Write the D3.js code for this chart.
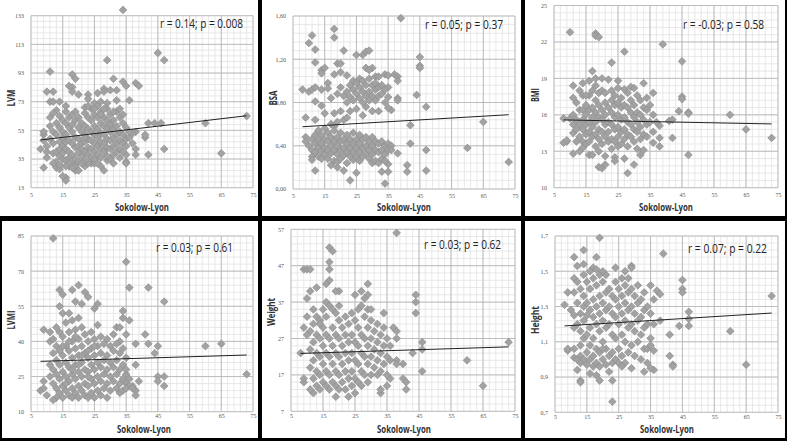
<!DOCTYPE html>
<html><head><meta charset="utf-8">
<script src="https://cdn.jsdelivr.net/npm/d3@7"></script>
<style>body{margin:0;background:#000;}svg{display:block;}</style>
</head><body>
<svg id="c" width="787" height="441"></svg>
<script>
const xTicks = [5,15,25,35,45,55,65,75];
const lvmTicks = [13,33,53,73,93,113,133];
const bsaTicks = [0,0.4,0.8,1.2,1.6];
const bmiTicks = [10,13,16,19,22,25];
const lvmiTicks = [10,25,40,55,70,85];
const weightTicks = [7,17,27,37,47,57];
const heightTicks = [0.7,0.9,1.1,1.3,1.5,1.7];

const annotations = ["r = 0.14; p = 0.008","r = 0.05; p = 0.37","r = -0.03; p = 0.58","r = 0.03; p = 0.61","r = 0.03; p = 0.62","r = 0.07; p = 0.22"];
const yTitles = ["LVM","BSA","BMI","LVMI","Weight","Height"];

const lvmFit = [[8,46.3],[73,63.2]];
const bsaFit = [[8,0.576],[73,0.687]];
const bmiFit = [[8,15.58],[73,15.25]];
const lvmiFit = [[8,31.5],[73,34.2]];
const weightFit = [[8,22.9],[73,24.7]];
const heightFit = [[8,1.19],[73,1.263]];

const lvmData = [[34,137],[45,107],[47,102],[29,102],[11,94],[18,92],[19,89],[31,89],[34,87],[38,86],[39,84],[35,84],[17,84],[18,83],[18,80],[20,78],[10,80],[12,80],[23,78],[26,79],[28,82],[28,80],[32,81],[30,81],[36,74],[32,74],[11,73],[12,73],[14,73],[25,72],[27,73],[29,72],[23,75],[16,70],[13,67],[22,69],[60,58],[65,37],[73,63],[47,40],[42,36],[41,48],[41,50],[44,58],[42,58],[46,58],[38,40],[38,36],[38,52],[37,51],[35,31],[35,30],[35,36],[33,34],[31,30],[28,25],[24,30],[8,40],[9,27],[9,50],[9,52],[10,34],[12,37],[13,27],[14,26],[16,20],[16,18],[15,21],[17,28],[19,26],[19,25],[22,28],[23,30],[25,30],[27,28],[29,32],[30,33],
[11,47],[11,56],[11,62],[12,65],[12,44],[12,52],[13,38],[13,58],[13,50],[14,63],[14,55],[14,45],[14,35],[14,40],[15,60],[15,52],[15,48],[15,42],[15,33],[15,37],[16,66],[16,58],[16,50],[16,45],[16,40],[16,32],[17,62],[17,55],[17,46],[17,38],[17,34],[18,64],[18,57],[18,52],[18,44],[18,36],[18,30],[19,66],[19,60],[19,48],[19,41],[19,33],[19,28],[20,62],[20,55],[20,47],[20,42],[20,37],[20,31],[21,58],[21,52],[21,44],[21,40],[21,35],[22,65],[22,56],[22,50],[22,45],[22,38],[22,32],[23,62],[23,54],[23,47],[23,41],[23,36],[24,68],[24,60],[24,52],[24,46],[24,40],[24,34],[25,64],[25,56],[25,50],[25,44],[25,38],[25,33],[26,70],[26,62],[26,54],[26,48],[26,42],[26,36],[27,66],[27,58],[27,51],[27,45],[27,40],[27,34],[28,62],[28,56],[28,50],[28,44],[28,38],[29,68],[29,60],[29,54],[29,47],[29,41],[29,35],[30,64],[30,57],[30,52],[30,46],[30,40],[31,60],[31,54],[31,48],[31,42],[31,36],[32,66],[32,56],[32,50],[32,44],[32,38],[33,62],[33,52],[33,46],[33,40],[34,58],[34,50],[34,44],[34,38],[35,55],[35,47],[35,42],[36,48],[36,52],[37,44],[13,31],[14,29],[17,30],[21,30],[26,30],[20,25],[18,27],[22,48],[10,42],[10,38],[9,46],[12,30],[16,28],[27,64],[28,68],[23,70],[25,68],[31,66],[33,68],[34,64]];

const bsaData = [[39,1.58],[18,1.48],[18,1.40],[11,1.42],[10,1.35],[12,1.29],[21,1.28],[25,1.24],[27,1.24],[28,1.27],[29,1.28],[45,1.22],[45,1.14],[45,1.12],[12,1.17],[19,1.16],[20,1.16],[14,1.10],[15,1.12],[14,1.07],[18,1.06],[22,1.05],[28,1.12],[30,1.12],[29,1.10],[31,1.04],[34,1.06],[35,1.05],[37,1.06],[38,1.04],[38,1.0],[8,0.92],[10,0.90],[11,0.92],[12,0.94],[14,0.92],[16,0.98],[16,0.93],[44,0.87],[47,0.76],[38,0.84],[38,0.82],[36,0.73],[35,0.75],[35,0.85],[35,0.94],[65,0.62],[60,0.38],[73,0.25],[47,0.36],[47,0.17],[42,0.59],[42,0.42],[41,0.22],[41,0.16],[34,0.05],[23,0.08],[25,0.15],[12,0.17],[9,0.66],[12,0.64],[9,0.48],[9,0.44],[12,0.81],[14,0.77],[15,0.70],[17,0.84],[38,0.33],[35,0.16],[35,0.23],[33,0.16],[21,0.17],[17,0.22],[19,0.20],[22,0.24],[24,0.27],
[19,0.88],[20,0.94],[21,0.86],[22,0.90],[22,0.80],[23,0.96],[23,0.85],[24,1.0],[24,0.92],[24,0.82],[25,0.98],[25,0.88],[25,0.74],[26,1.02],[26,0.94],[26,0.84],[27,1.0],[27,0.90],[27,0.80],[27,0.68],[28,0.96],[28,0.86],[28,0.76],[29,1.02],[29,0.90],[29,0.82],[30,0.96],[30,0.86],[30,0.72],[31,0.98],[31,0.92],[31,0.82],[32,1.04],[32,0.94],[32,0.86],[32,0.72],[33,0.96],[33,0.88],[34,0.92],[34,0.80],[20,0.72],[18,0.70],[21,0.64],[22,0.66],[23,0.72],[20,1.08],[19,0.62],[17,0.60],[18,0.58],
[10,0.40],[11,0.46],[11,0.36],[11,0.30],[11,0.27],[12,0.50],[12,0.42],[12,0.34],[13,0.54],[13,0.46],[13,0.38],[13,0.30],[14,0.50],[14,0.42],[14,0.35],[14,0.28],[15,0.56],[15,0.46],[15,0.38],[15,0.32],[16,0.52],[16,0.44],[16,0.36],[16,0.28],[17,0.48],[17,0.40],[17,0.33],[18,0.54],[18,0.44],[18,0.36],[18,0.26],[19,0.48],[19,0.40],[19,0.32],[19,0.25],[20,0.52],[20,0.44],[20,0.36],[20,0.28],[21,0.46],[21,0.38],[21,0.31],[22,0.50],[22,0.42],[22,0.34],[23,0.46],[23,0.38],[23,0.30],[24,0.52],[24,0.42],[24,0.34],[25,0.46],[25,0.38],[25,0.30],[26,0.50],[26,0.42],[26,0.34],[26,0.26],[27,0.46],[27,0.38],[27,0.30],[28,0.48],[28,0.40],[28,0.33],[29,0.44],[29,0.36],[29,0.28],[30,0.48],[30,0.40],[30,0.32],[30,0.24],[31,0.44],[31,0.36],[31,0.26],[32,0.42],[32,0.34],[32,0.24],[33,0.44],[33,0.36],[33,0.28],[34,0.40],[34,0.32],[35,0.42],[35,0.36],[36,0.40],[36,0.36],[34,0.26]];

const bmiData = [[10,22.8],[18,22.7],[18,22.5],[19,22.4],[39,21.8],[27,21.2],[23,20.3],[45,20.4],[17,19.6],[18,19.0],[22,18.9],[25,18.8],[16,18.8],[11,18.4],[27,18.1],[29,18.3],[30,18.2],[33,18.6],[36,17.8],[45,17.5],[45,17.3],[44,16.3],[47,16.2],[47,16.1],[60,16.0],[65,14.8],[73,14.1],[47,12.7],[42,14.1],[41,15.5],[42,15.6],[38,14.1],[38,13.4],[38,15.1],[36,14.6],[11,12.8],[9,13.8],[8,13.7],[9,13.9],[8,15.7],[10,15.7],[19,11.7],[20,11.6],[21,12.6],[21,11.9],[24,12.5],[24,12.2],[27,12.4],[28,11.2],[30,11.9],[32,12.7],[33,13.1],[36,13.7],[13,13.0],[14,13.3],[16,12.7],[17,12.7],
[11,17.4],[11,16.0],[11,15.2],[11,14.5],[12,17.0],[12,15.6],[12,14.8],[12,13.8],[13,16.4],[13,15.2],[13,14.2],[14,18.6],[14,17.6],[14,16.4],[14,15.6],[14,14.8],[14,13.8],[15,16.8],[15,16.0],[15,15.2],[15,14.4],[15,13.6],[16,17.6],[16,16.4],[16,15.4],[16,14.6],[16,13.8],[17,18.0],[17,16.6],[17,15.8],[17,15.0],[17,14.2],[18,18.4],[18,17.2],[18,16.2],[18,15.4],[18,14.4],[18,13.4],[19,17.8],[19,16.8],[19,15.8],[19,14.8],[19,14.0],[19,13.0],[20,18.0],[20,16.4],[20,15.6],[20,14.6],[20,13.6],[21,17.0],[21,16.0],[21,15.2],[21,14.2],[22,16.6],[22,15.4],[22,14.6],[22,13.8],[23,17.2],[23,16.2],[23,15.2],[23,14.0],[23,13.2],[24,17.6],[24,16.8],[24,15.8],[24,14.8],[24,13.8],[25,17.0],[25,16.0],[25,15.0],[25,14.2],[25,13.4],[26,17.4],[26,16.6],[26,15.6],[26,14.6],[26,13.6],[27,16.8],[27,15.8],[27,14.8],[27,14.0],[28,17.8],[28,16.6],[28,15.4],[28,14.4],[28,13.4],[29,17.2],[29,16.2],[29,15.2],[29,14.2],[30,16.8],[30,15.8],[30,14.8],[30,13.8],[31,17.6],[31,16.2],[31,15.4],[31,14.6],[31,13.2],[32,17.2],[32,16.0],[32,15.0],[32,14.0],[33,16.6],[33,15.6],[33,14.4],[34,17.4],[34,16.4],[34,15.2],[34,14.2],[35,16.8],[35,15.4],[36,16.0],[37,15.4],[25,18.2],[23,18.0],[21,17.8],[20,19.0],[15,17.6],[13,18.0]];

const lvmiData = [[12,84],[35,74],[42,63],[36,63],[47,57],[20,64],[14,62],[18,62],[22,61],[23,59],[19,57],[21,56],[15,60],[26,56],[25,54],[34,53],[34,50],[36,49],[41,43],[42,39],[45,38],[44,35],[38,39],[38,30],[60,38],[65,39],[73,26],[47,25],[47,21],[45,25],[45,23],[38,19],[38,17],[39,23],[37,21],[35,22],[35,26],[9,45],[11,44],[8,19],[9,20],[9,23],[10,17],[13,16],[12,15],[29,16],[33,18],[36,21],[32,46],[33,46],[31,43],[33,40],[35,43],[35,33],
[11,40],[11,30],[11,25],[12,41],[12,35],[12,28],[12,22],[13,46],[13,38],[13,32],[13,26],[13,20],[14,55],[14,44],[14,36],[14,30],[14,24],[14,18],[15,52],[15,42],[15,34],[15,27],[15,21],[15,16],[16,48],[16,38],[16,31],[16,25],[16,19],[17,52],[17,44],[17,36],[17,29],[17,23],[17,17],[18,49],[18,40],[18,33],[18,26],[18,20],[18,16],[19,45],[19,37],[19,30],[19,24],[19,18],[20,50],[20,41],[20,34],[20,27],[20,21],[20,16],[21,46],[21,38],[21,31],[21,25],[21,19],[22,43],[22,35],[22,28],[22,22],[22,17],[23,40],[23,33],[23,27],[23,21],[23,16],[24,44],[24,37],[24,30],[24,24],[24,18],[25,41],[25,34],[25,28],[25,22],[25,16],[26,47],[26,38],[26,31],[26,25],[26,19],[27,42],[27,35],[27,29],[27,23],[27,17],[28,39],[28,32],[28,26],[28,20],[29,41],[29,34],[29,28],[29,22],[30,38],[30,31],[30,25],[30,19],[31,36],[31,29],[31,23],[32,39],[32,32],[32,26],[32,20],[33,35],[33,28],[33,22],[34,37],[34,30],[34,24],[34,19],[35,28],[35,20],[36,24],[37,20],[15,38],[17,40],[19,42],[21,34],[23,36],[25,38],[23,25],[20,30],[18,28],[16,22]];

const weightData = [[38,56],[17,52],[18,51],[17,48],[17,46],[17,43],[16,42],[9,46],[10,46],[11,46],[13,41],[11,40],[20,40],[19,40],[27,40],[25,39],[29,42],[29,39],[28,38],[44,39],[44,37],[44,34],[16,37],[10,38],[12,35],[34,34],[37,30],[38,29],[38,27],[46,26],[46,24],[46,18],[43,23],[40,20],[40,16],[41,15],[41,13],[36,21],[38,21],[38,20],[60,21],[65,14],[73,26],[33,12],[33,13],[35,14],[36,16],[19,11],[23,11],[12,12],[11,13],[8,23],[9,15],[9,16],[9,30],[10,33],[11,29],[10,28],
[11,24],[11,19],[12,26],[12,21],[12,16],[13,33],[13,28],[13,23],[13,18],[13,14],[14,32],[14,27],[14,22],[14,17],[14,13],[15,30],[15,25],[15,20],[15,15],[16,33],[16,28],[16,23],[16,18],[16,14],[17,36],[17,27],[17,22],[17,17],[17,13],[18,35],[18,30],[18,25],[18,20],[18,15],[19,34],[19,28],[19,23],[19,18],[19,14],[20,32],[20,27],[20,22],[20,17],[20,13],[21,30],[21,25],[21,20],[21,15],[22,28],[22,23],[22,18],[22,13],[23,31],[23,26],[23,21],[23,16],[24,34],[24,28],[24,23],[24,18],[24,14],[25,32],[25,26],[25,21],[25,16],[25,12],[26,30],[26,25],[26,20],[26,15],[27,36],[27,28],[27,23],[27,18],[27,14],[28,33],[28,27],[28,22],[28,17],[29,35],[29,30],[29,25],[29,20],[29,15],[30,32],[30,27],[30,22],[30,17],[31,29],[31,24],[31,19],[32,31],[32,26],[32,21],[32,17],[33,28],[33,23],[33,18],[34,30],[34,25],[34,20],[35,27],[35,22],[35,17],[36,25],[26,35],[30,35],[22,33],[20,36],[15,35],[14,31],[12,31]];

const heightData = [[19,1.69],[14,1.62],[11,1.58],[18,1.58],[39,1.60],[12,1.53],[14,1.54],[17,1.52],[18,1.51],[29,1.53],[29,1.52],[45,1.45],[45,1.40],[45,1.38],[73,1.36],[47,1.27],[47,1.23],[47,1.19],[44,1.19],[41,1.14],[60,1.16],[65,0.97],[42,0.97],[42,0.96],[41,1.02],[38,1.22],[36,0.94],[35,0.95],[33,0.93],[23,0.76],[23,0.88],[19,0.88],[13,0.88],[13,0.87],[8,1.31],[9,1.38],[9,1.05],[9,1.06],[11,1.06],[10,1.28],[11,1.01],[12,0.94],[16,0.92],[18,0.91],[35,1.42],[37,1.39],[38,1.37],[36,1.34],
[11,1.46],[11,1.38],[11,1.25],[11,1.18],[12,1.44],[12,1.32],[12,1.20],[12,1.00],[13,1.40],[13,1.26],[13,1.16],[13,1.02],[13,0.98],[14,1.48],[14,1.36],[14,1.30],[14,1.22],[14,1.12],[14,1.00],[15,1.44],[15,1.32],[15,1.25],[15,1.14],[15,1.04],[15,0.97],[16,1.40],[16,1.28],[16,1.18],[16,1.08],[16,1.00],[17,1.46],[17,1.34],[17,1.24],[17,1.12],[17,1.02],[17,0.96],[18,1.42],[18,1.30],[18,1.20],[18,1.06],[18,0.98],[19,1.48],[19,1.36],[19,1.26],[19,1.16],[19,1.04],[19,0.96],[20,1.44],[20,1.32],[20,1.22],[20,1.10],[20,1.00],[21,1.48],[21,1.38],[21,1.28],[21,1.18],[21,1.06],[21,0.97],[22,1.40],[22,1.30],[22,1.20],[22,1.02],[22,0.93],[23,1.36],[23,1.26],[23,1.14],[23,1.04],[23,0.98],[24,1.44],[24,1.34],[24,1.24],[24,1.12],[24,1.00],[25,1.40],[25,1.30],[25,1.20],[25,1.06],[25,0.98],[26,1.46],[26,1.36],[26,1.26],[26,1.14],[26,1.02],[27,1.42],[27,1.32],[27,1.22],[27,1.10],[27,0.98],[28,1.46],[28,1.38],[28,1.28],[28,1.18],[28,1.04],[29,1.40],[29,1.30],[29,1.20],[29,1.08],[29,0.95],[30,1.36],[30,1.26],[30,1.16],[30,1.02],[31,1.42],[31,1.32],[31,1.22],[31,1.10],[32,1.34],[32,1.24],[32,1.14],[32,1.00],[33,1.38],[33,1.28],[33,1.18],[33,1.06],[34,1.30],[34,1.20],[34,1.06],[34,0.98],[35,1.26],[35,1.12],[35,1.08],[36,1.20],[36,1.05],[16,1.50],[20,1.50],[24,1.52],[27,1.50],[13,1.08],[26,0.96],[20,1.06]];

const svg = d3.select("#c");
const panelRects = [
  [0,0,258,216],[262,0,259,216],[525,0,260,216],
  [2,221,256,217],[262,221,259,217],[525,221,260,217]
];
panelRects.forEach(r=>svg.append("rect").attr("x",r[0]).attr("y",r[1]).attr("width",r[2]).attr("height",r[3]).attr("fill","#fff"));

const panels = [
  {data:lvmData, ticks:lvmTicks, fit:lvmFit, minor:4, fmt:d=>d, plot:[31,253,15.7,187.7], yt:[12,98], xt:[142,211], an:[160,28,83], pad:5},
  {data:bsaData, ticks:bsaTicks, fit:bsaFit, minor:0.08, fmt:d=>d.toFixed(2).replace(".",","), plot:[293,515,16,189], yt:[274,98], xt:[404,211], an:[425,29,78], pad:5},
  {data:bmiData, ticks:bmiTicks, fit:bmiFit, minor:0.6, fmt:d=>d, plot:[554,778,5.5,187.7], yt:[536,95], xt:[666,211], an:[683,29,81], pad:5},
  {data:lvmiData, ticks:lvmiTicks, fit:lvmiFit, minor:3, fmt:d=>d, plot:[31,253,236,411.7], yt:[12,320], xt:[144,433], an:[156,252,77], pad:2},
  {data:weightData, ticks:weightTicks, fit:weightFit, minor:2, fmt:d=>d, plot:[291,515,229.3,411.3], yt:[272,312], xt:[404,433], an:[424,249,77], pad:2},
  {data:heightData, ticks:heightTicks, fit:heightFit, minor:0.04, fmt:d=>d.toFixed(1).replace(".",","), plot:[555,778,236,412.3], yt:[536,320], xt:[667,433], an:[688,253,79], pad:2}
];
const yTitleLen = [17,15,14,19,28,28];

const diamond = d3.symbol().type(d3.symbolSquare).size(30);

panels.forEach((p,i)=>{
  const [x0,x1,y0,y1] = p.plot;
  const x = d3.scaleLinear().domain([5,75]).range([x0,x1]);
  const yd = [p.ticks[0], p.ticks[p.ticks.length-1]];
  const y = d3.scaleLinear().domain(yd).range([y1,y0]);
  const g = svg.append("g");
  const xm = d3.range(5,75.001,2);
  const nMinor = Math.round((yd[1]-yd[0])/p.minor);
  const ym = d3.range(0,nMinor+1).map(k=>yd[0]+k*p.minor);
  g.selectAll(".vx").data(xm).enter().append("line")
    .attr("x1",d=>x(d)).attr("x2",d=>x(d)).attr("y1",y0).attr("y2",y1)
    .attr("stroke","#e2e2e2").attr("stroke-width",0.8);
  g.selectAll(".hy").data(ym).enter().append("line")
    .attr("y1",d=>y(d)).attr("y2",d=>y(d)).attr("x1",x0).attr("x2",x1)
    .attr("stroke","#e2e2e2").attr("stroke-width",0.8);
  g.selectAll(".vX").data(xTicks).enter().append("line")
    .attr("x1",d=>x(d)).attr("x2",d=>x(d)).attr("y1",y0).attr("y2",y1)
    .attr("stroke","#b8b8b8").attr("stroke-width",0.9);
  g.selectAll(".hY").data(p.ticks).enter().append("line")
    .attr("y1",d=>y(d)).attr("y2",d=>y(d)).attr("x1",x0).attr("x2",x1)
    .attr("stroke","#b8b8b8").attr("stroke-width",0.9);
  const ax = g.append("g").attr("transform",`translate(0,${y1})`)
    .call(d3.axisBottom(x).tickValues(xTicks).tickSize(0).tickPadding(p.pad));
  ax.select(".domain").remove();
  ax.selectAll("text").attr("font-family","Liberation Serif").attr("font-size",6).attr("fill","#555");
  const ay = g.append("g").attr("transform",`translate(${x0},0)`)
    .call(d3.axisLeft(y).tickValues(p.ticks).tickSize(0).tickPadding(7).tickFormat(p.fmt));
  ay.select(".domain").remove();
  ay.selectAll("text").attr("font-family","Liberation Serif").attr("font-size",6).attr("fill","#555");
  g.selectAll(".pt").data(p.data).enter().append("path")
    .attr("d",diamond)
    .attr("transform",d=>`translate(${x(d[0])},${y(d[1])}) rotate(45)`)
    .attr("fill","#a2a2a2").attr("stroke","#8a8a8a").attr("stroke-width",0.6);
  g.append("line")
    .attr("x1",x(p.fit[0][0])).attr("y1",y(p.fit[0][1]))
    .attr("x2",x(p.fit[1][0])).attr("y2",y(p.fit[1][1]))
    .attr("stroke","#222").attr("stroke-width",1);
  g.append("text").attr("x",p.xt[0]).attr("y",p.xt[1]).attr("text-anchor","middle")
    .attr("font-family","Open Sans").attr("font-weight","bold").attr("font-size",10).attr("fill","#333")
    .attr("textLength",54).attr("lengthAdjust","spacingAndGlyphs")
    .text("Sokolow-Lyon");
  g.append("text").attr("transform",`translate(${p.yt[0]+3},${p.yt[1]}) rotate(-90)`).attr("text-anchor","middle")
    .attr("font-family","Open Sans").attr("font-weight","bold").attr("font-size",10).attr("fill","#333")
    .attr("textLength",yTitleLen[i]).attr("lengthAdjust","spacingAndGlyphs")
    .text(yTitles[i]);
  g.append("text").attr("x",p.an[0]).attr("y",p.an[1])
    .attr("font-family","Open Sans").attr("font-size",12).attr("fill","#222")
    .attr("textLength",p.an[2]).attr("lengthAdjust","spacingAndGlyphs")
    .text(annotations[i]);
});
</script>
</body></html>
